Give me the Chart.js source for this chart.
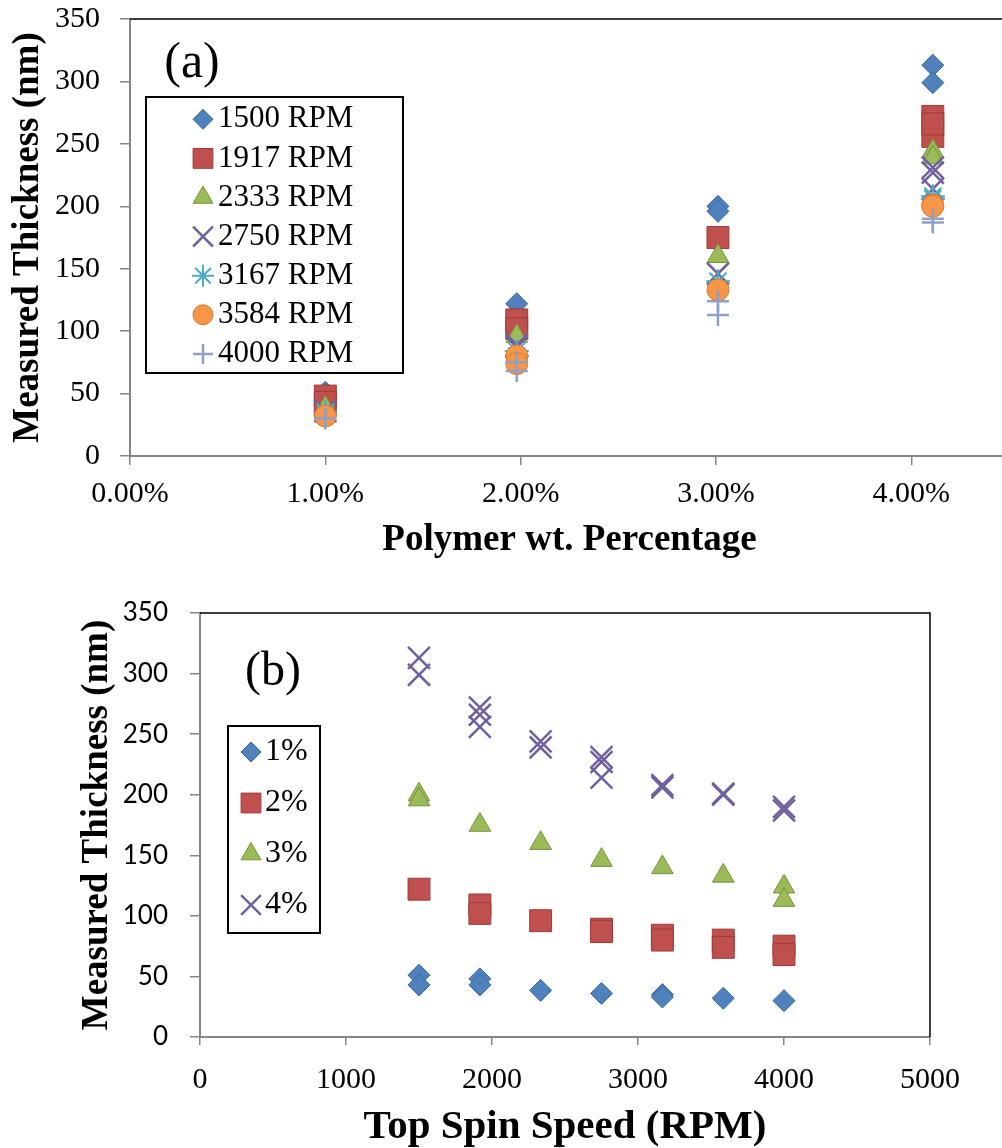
<!DOCTYPE html>
<html><head><meta charset="utf-8">
<script src="https://cdn.jsdelivr.net/npm/chart.js@4/dist/chart.umd.min.js"></script>
<style>
html,body{margin:0;padding:0;background:#fff;overflow:hidden;width:1002px;height:1148px;}
#wrapA{position:absolute;left:0;top:0;width:1002px;height:565px;overflow:hidden;}
#wrapB{position:absolute;left:0;top:585px;width:1002px;height:563px;overflow:hidden;}
canvas{display:block;}
</style></head><body>
<div id="wrapA"><canvas id="cA" width="1012" height="565"></canvas></div>
<div id="wrapB"><canvas id="cB" width="1002" height="563"></canvas></div>
<script>
// ---------- data ----------
const spinRPM = [1500, 1917, 2333, 2750, 3167, 3584, 4000];
const rpmLabels = ['1500 RPM', '1917 RPM', '2333 RPM', '2750 RPM', '3167 RPM', '3584 RPM', '4000 RPM'];
const wtFraction = [0.0100, 0.0198, 0.0301, 0.0411];
const wtLabels = ['1%', '2%', '3%', '4%'];
// measured thickness (nm), indexed by spin speed; several replicate runs per concentration
const t1pct_run1 = [51, 48, 38.5, 36, 35, 32, 30];
const t1pct_run2 = [43, 43, null, null, 33, null, null];
const t2pct_run1 = [122, 109, 96, 89, 84, 80, 75];
const t2pct_run2 = [null, 102, null, 87, 80, 74, 68];
const t3pct_run1 = [200, 175, 160, 146, 140, 133, 124];
const t3pct_run2 = [196, null, null, null, null, null, 113];
const t4pct_run1 = [313, 272, 244, 231, 208, 201, 190];
const t4pct_run2 = [299, 256, 239, 227, 206, 200, 187];
const t4pct_run3 = [null, 266, null, 214, null, null, null];
const runsByConc = [[t1pct_run1, t1pct_run2], [t2pct_run1, t2pct_run2], [t3pct_run1, t3pct_run2], [t4pct_run1, t4pct_run2, t4pct_run3]];
const yTickStep = 50, yMax = 350;
const xTicksA = [0, 0.01, 0.02, 0.03, 0.04], xMaxA = 0.045;
const xTickStepB = 1000, xMaxB = 5000;

// ---------- styles ----------
const SERIF = '"Liberation Serif", "Times New Roman", serif';
const SANS = 'Lato, "Liberation Sans", sans-serif';
const GRAY = '#868686';
const markerStyles = [
  {style: 'rectRot',  fill: '#4F81BD', line: '#3A679E', r: 11,   lr: 10,  bw: 1},
  {style: 'rect',     fill: '#C0504D', line: '#9E3B39', r: 15.5, lr: 14,  bw: 1},
  {style: 'triangle', fill: '#9BBB59', line: '#76923C', r: 12.5, lr: 11.5, bw: 1},
  {style: 'crossRot', fill: '#8064A2', line: '#7060A0', r: 15.5, lr: 14,  bw: 2.5},
  {style: 'star',     fill: '#4BACC6', line: '#4BACC6', r: 12,   lr: 11,  bw: 2},
  {style: 'circle',   fill: '#F79646', line: '#D97A32', r: 11,   lr: 10,  bw: 1},
  {style: 'cross',    fill: '#95B3D7', line: '#8E9FC8', r: 11,   lr: 10,  bw: 2.5}
];

function styled(ds, st, i) {
  return Object.assign(ds, {
    pointStyle: st.style, pointRadius: st.r, pointBackgroundColor: st.fill,
    pointBorderColor: st.line, pointBorderWidth: st.bw, showLine: false,
    legendRadius: st.lr, order: -i
  });
}

const dsA = spinRPM.map((rpm, i) => {
  const pts = [];
  runsByConc.forEach((runs, c) => runs.forEach(run => {
    if (run[i] != null) pts.push({x: wtFraction[c], y: run[i]});
  }));
  return styled({label: rpmLabels[i], data: pts}, markerStyles[i], i);
});

const dsB = wtLabels.map((lab, c) => {
  const pts = [];
  runsByConc[c].forEach(run => run.forEach((v, i) => {
    if (v != null) pts.push({x: spinRPM[i], y: v});
  }));
  return styled({label: lab, data: pts}, markerStyles[c], c);
});

// ---------- plugin: plot frame, panel tag, boxed legend ----------
const panelPlugin = {
  id: 'panel',
  beforeDatasetsDraw(chart, args, opts) {
    const {ctx, chartArea: a} = chart;
    ctx.save();
    ctx.strokeStyle = '#000'; ctx.lineWidth = 1.5;
    ctx.beginPath(); ctx.moveTo(a.left, a.top); ctx.lineTo(a.right, a.top); ctx.lineTo(a.right, a.bottom); ctx.stroke();
    ctx.restore();
  },
  afterDraw(chart, args, opts) {
    const ctx = chart.ctx;
    ctx.save();
    ctx.fillStyle = '#000'; ctx.textAlign = 'center'; ctx.textBaseline = 'middle';
    ctx.font = opts.tag.size + 'px ' + SERIF;
    ctx.fillText(opts.tag.text, opts.tag.x, opts.tag.y);
    const L = opts.legend;
    ctx.fillStyle = '#fff'; ctx.fillRect(L.x, L.y, L.w, L.h);
    ctx.strokeStyle = '#000'; ctx.lineWidth = 2; ctx.strokeRect(L.x, L.y, L.w, L.h);
    chart.data.datasets.forEach((ds, i) => {
      const y = L.row0 + i * L.gap;
      ctx.fillStyle = ds.pointBackgroundColor; ctx.strokeStyle = ds.pointBorderColor;
      ctx.lineWidth = ds.pointBorderWidth;
      Chart.helpers.drawPoint(ctx, {pointStyle: ds.pointStyle, radius: ds.legendRadius, rotation: 0, borderWidth: ds.pointBorderWidth}, L.markerX, y);
      ctx.fillStyle = '#000'; ctx.textAlign = 'left'; ctx.textBaseline = 'middle';
      ctx.font = L.font + 'px ' + SERIF;
      ctx.fillText(ds.label, L.textX, y);
    });
    ctx.restore();
  }
};

function axis(o) {
  const a = {
    type: 'linear', min: 0, max: o.max, position: o.position,
    ticks: {stepSize: o.step, color: '#000', font: {family: o.tickFamily, size: o.tickSize}, padding: o.tickPad,
            callback: o.cb, maxRotation: 0, autoSkip: false},
    grid: {display: true, drawOnChartArea: false, drawTicks: true, tickLength: o.tickLen, color: GRAY, lineWidth: 1.5},
    border: {display: true, color: GRAY, width: 2},
    title: {display: true, text: o.title, color: '#000',
            font: {family: SERIF, size: o.titleSize, weight: 'bold', lineHeight: 1}, padding: o.titlePad},
    afterFit: s => {
      o.fit(s);
      s.paddingTop = 0; s.paddingBottom = 0; s.paddingLeft = 0; s.paddingRight = 0;
    }
  };
  if (o.fixedTicks) a.afterBuildTicks = s => { s.ticks = o.fixedTicks.map(v => ({value: v})); };
  return a;
}

Chart.defaults.animation = false;

new Chart(document.getElementById('cA'), {
  type: 'scatter',
  data: {datasets: dsA},
  options: {
    responsive: false, events: [],
    layout: {autoPadding: false, padding: {top: 19, right: 3, left: 0, bottom: 0}},
    plugins: {
      legend: {display: false}, tooltip: {enabled: false},
      panel: {
        tag: {text: '(a)', x: 192, y: 64, size: 50},
        legend: {x: 146, y: 97, w: 257, h: 276, row0: 119.3, gap: 39.1, markerX: 203, textX: 218, font: 31}
      }
    },
    scales: {
      x: axis({max: xMaxA, step: 0.01, fixedTicks: xTicksA, position: 'bottom', tickFamily: SERIF, tickSize: 30, tickPad: 11, tickLen: 9,
               cb: v => (v * 100).toFixed(2) + '%',
               title: 'Polymer wt. Percentage', titleSize: 37, titlePad: {top: 0, bottom: 6.5},
               fit: s => { s.height = 109; }}),
      y: axis({max: yMax, step: yTickStep, position: 'left', tickFamily: SERIF, tickSize: 30, tickPad: 20, tickLen: 10,
               cb: v => String(v),
               title: 'Measured Thickness (nm)', titleSize: 37, titlePad: {top: 9.5, bottom: 0},
               fit: s => { s.width = 130; }})
    }
  },
  plugins: [panelPlugin]
});

new Chart(document.getElementById('cB'), {
  type: 'scatter',
  data: {datasets: dsB},
  options: {
    responsive: false, events: [],
    layout: {autoPadding: false, padding: {top: 28, right: 72, left: 0, bottom: 0}},
    plugins: {
      legend: {display: false}, tooltip: {enabled: false},
      panel: {
        tag: {text: '(b)', x: 273, y: 87, size: 48},
        legend: {x: 228, y: 141, w: 92, h: 207, row0: 167, gap: 51, markerX: 251, textX: 265, font: 32}
      }
    },
    scales: {
      x: axis({max: xMaxB, step: xTickStepB, position: 'bottom', tickFamily: SERIF, tickSize: 30, tickPad: 17, tickLen: 8,
               cb: v => String(v),
               title: 'Top Spin Speed (RPM)', titleSize: 41, titlePad: {top: 0, bottom: 0.5},
               fit: s => { s.height = 111; }}),
      y: axis({max: yMax, step: yTickStep, position: 'left', tickFamily: SANS, tickSize: 26, tickPad: 22, tickLen: 10,
               cb: v => String(v),
               title: 'Measured Thickness (nm)', titleSize: 37, titlePad: {top: 78.5, bottom: 0},
               fit: s => { s.width = 200; }})
    }
  },
  plugins: [panelPlugin]
});
</script>
</body></html>
